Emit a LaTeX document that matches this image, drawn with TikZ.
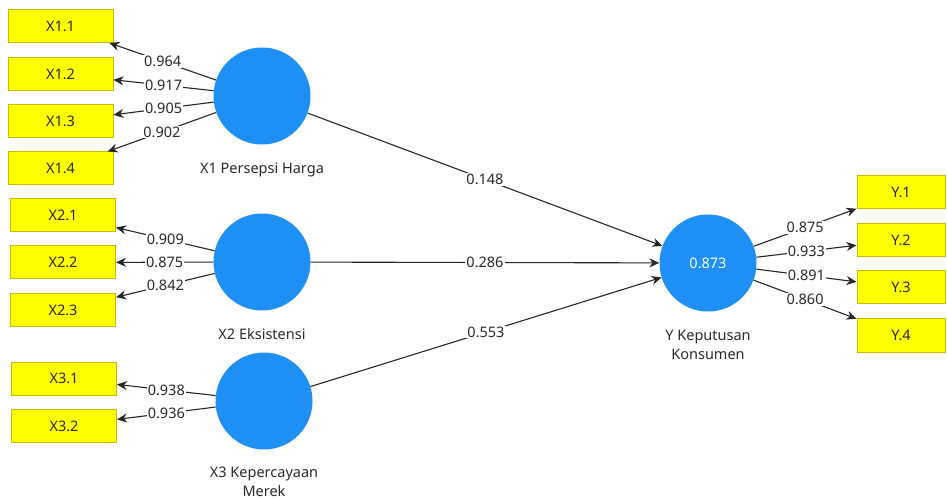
\documentclass[tikz,border=0pt]{standalone}
\usepackage{fontspec}
\setmainfont{Noto Sans}
\usetikzlibrary{arrows.meta}
\definecolor{boxfill}{HTML}{FFFF00}
\definecolor{boxdraw}{HTML}{C8BC00}
\definecolor{latent}{HTML}{1E8FF5}
\definecolor{txt}{HTML}{2A2A2A}
\begin{document}
\begin{tikzpicture}[x=1pt,y=-1pt,
  ind/.style={draw=boxdraw,fill=boxfill,line width=1pt,minimum width=105pt,minimum height=33pt,inner sep=0pt,font=\fontsize{14.5}{16}\selectfont,text=txt},
  indy/.style={ind,minimum width=88pt},
  lat/.style={circle,fill=latent,minimum size=97pt,inner sep=0pt,font=\fontsize{14.5}{16}\selectfont,text=white},
  latlabel/.style={font=\fontsize{14.5}{19}\selectfont,text=txt,align=center},
  con/.style={draw=black!85,line width=1.1pt,-{Stealth[length=10pt,width=9pt]}},
  wt/.style={fill=white,inner sep=1pt,font=\fontsize{14.5}{16}\selectfont,text=txt}]
\useasboundingbox (0,0) rectangle (947,502);
% indicators
\node[ind] (x11) at (60.5,26) {X1.1};
\node[ind] (x12) at (60.5,74) {X1.2};
\node[ind] (x13) at (60.5,121.5) {X1.3};
\node[ind] (x14) at (60.5,168.5) {X1.4};
\node[ind] (x21) at (63,215) {X2.1};
\node[ind] (x22) at (63,262.5) {X2.2};
\node[ind] (x23) at (63,310) {X2.3};
\node[ind] (x31) at (64,378.5) {X3.1};
\node[ind] (x32) at (64,426) {X3.2};
\node[indy] (y1) at (901,192.5) {Y.1};
\node[indy] (y2) at (901,240) {Y.2};
\node[indy] (y3) at (901,287.5) {Y.3};
\node[indy] (y4) at (901,335.5) {Y.4};
% latent variables
\node[lat] (c1) at (262,96) {};
\node[lat] (c2) at (262,262) {};
\node[lat] (c3) at (264,401) {};
\node[lat] (cy) at (708,263) {0.873};
\node[latlabel] (l1) at (262,170) {X1 Persepsi Harga};
\node[latlabel] (l2) at (262,334) {X2 Eksistensi};
\node[latlabel] (l3) at (264,482) {X3 Kepercayaan\\Merek};
\node[latlabel] (ly) at (708,345) {Y Keputusan\\Konsumen};
% outer loadings
\draw[con] (c1) -- node[wt]{0.964} (x11);
\draw[con] (c1) -- node[wt]{0.917} (x12);
\draw[con] (c1) -- node[wt]{0.905} (x13);
\draw[con] (c1) -- node[wt]{0.902} (x14);
\draw[con] (c2) -- node[wt]{0.909} (x21);
\draw[con] (c2) -- node[wt]{0.875} (x22);
\draw[con] (c2) -- node[wt]{0.842} (x23);
\draw[con] (c3) -- node[wt]{0.938} (x31);
\draw[con] (c3) -- node[wt]{0.936} (x32);
\draw[con] (cy) -- node[wt]{0.875} (y1);
\draw[con] (cy) -- node[wt]{0.933} (y2);
\draw[con] (cy) -- node[wt]{0.891} (y3);
\draw[con] (cy) -- node[wt]{0.860} (y4);
% path coefficients
\draw[con] (c1) -- node[wt]{0.148} (cy);
\draw[con] (c2) -- node[wt]{0.286} (cy);
\draw[con] (c3) -- node[wt]{0.553} (cy);
\end{tikzpicture}
\end{document}
